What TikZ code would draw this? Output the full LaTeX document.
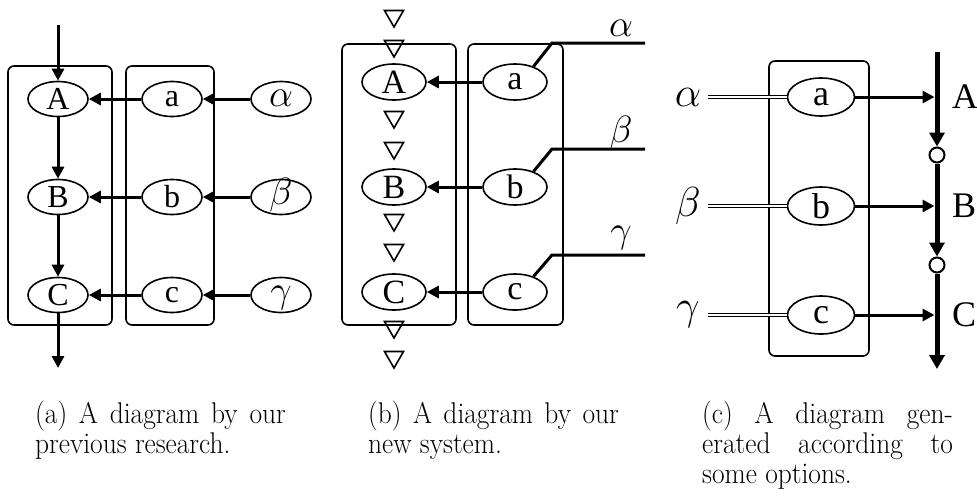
\RequirePackage{fix-cm}
\documentclass[tikz,border=0pt]{standalone}
\usepackage{fontspec}
\newfontfamily\nodefont{Liberation Serif}
\usetikzlibrary{arrows.meta,shapes.geometric}
\begin{document}
\begin{tikzpicture}[x=1pt,y=-1pt,
  ell/.style={ellipse, draw, line width=1.6pt, minimum width=60pt, minimum height=35pt, inner sep=0pt, font=\nodefont\fontsize{32}{32}\selectfont},
  ellb/.style={ell, minimum width=64pt, minimum height=36pt, font=\nodefont\fontsize{34}{34}\selectfont},
  ellc/.style={ell, minimum width=67pt, minimum height=38pt, font=\nodefont\fontsize{36}{36}\selectfont},
  grp/.style={draw, rounded corners=6pt, line width=1.6pt, inner sep=0pt},
  arr/.style={-{Triangle[length=12pt,width=12pt]}, line width=3pt},
  tri/.style={regular polygon, regular polygon sides=3, shape border rotate=180, draw, line width=1.6pt, minimum size=22pt, inner sep=0pt},
  wire/.style={line width=3pt},
  dbl/.style={double, double distance=2.4pt, line width=1pt},
  gka/.style={ell, font=\fontsize{38}{38}\selectfont, text height=14pt, text depth=0pt},
  gk/.style={font=\fontsize{38}{38}\selectfont, inner sep=0pt},
  gkc/.style={font=\fontsize{42}{42}\selectfont, inner sep=0pt},
  lab/.style={font=\nodefont\fontsize{36}{36}\selectfont, inner sep=0pt},
  bus/.style={line width=5pt, -{Triangle[length=14pt,width=15pt]}},
  ring/.style={circle, draw, fill=white, line width=2pt, minimum size=15pt, inner sep=0pt},
  captxt/.style={anchor=north west, inner sep=0pt, text width=274pt, align=justify, font=\fontsize{30}{30}\selectfont, xscale=0.915, transform shape}
]
\useasboundingbox (0,0) rectangle (977,496);

% ---------- panel (a) ----------
\node[grp, minimum width=104pt, minimum height=259pt] (La) at (60,195.5) {};
\node[grp, minimum width=88pt, minimum height=259pt] (Ra) at (170,195.5) {};
\node[ell] (A1) at (58,99) {A};
\node[ell] (B1) at (58,197) {B};
\node[ell] (C1) at (58,295) {C};
\node[ell] (a1) at (172,99) {a};
\node[ell] (b1) at (172,197) {b};
\node[ell] (c1) at (172,295) {c};
\node[gka] (g1a) at (281,99) {$\alpha$};
\node[gka] (g1b) at (281,197) {$\beta$};
\node[gka] (g1c) at (281,295) {$\gamma$};
\coordinate (topa) at (58,25);
\coordinate (bota) at (58,368);
\draw[arr] (topa) -- (A1);
\draw[arr] (A1) -- (B1);
\draw[arr] (B1) -- (C1);
\draw[arr] (C1) -- (bota);
\draw[arr] (a1) -- (A1);
\draw[arr] (b1) -- (B1);
\draw[arr] (c1) -- (C1);
\draw[arr] (g1a) -- (a1);
\draw[arr] (g1b) -- (b1);
\draw[arr] (g1c) -- (c1);

% ---------- panel (b) ----------
\node[grp, minimum width=114pt, minimum height=281pt] (Lb) at (399,184.5) {};
\node[grp, minimum width=95pt, minimum height=281pt] (Rb) at (515.5,184.5) {};
\node[ellb] (A2) at (394,82) {A};
\node[ellb] (B2) at (394,187) {B};
\node[ellb] (C2) at (394,292) {C};
\node[ellb] (a2) at (515,82) {a};
\node[ellb] (b2) at (515,187) {b};
\node[ellb] (c2) at (515,292) {c};
\node[tri] (t1) at (394,16) {};
\node[tri] (t2) at (394,46) {};
\node[tri] (t3) at (394,117) {};
\node[tri] (t4) at (394,148) {};
\node[tri] (t5) at (394,220) {};
\node[tri] (t6) at (394,250) {};
\node[tri] (t7) at (394,327) {};
\node[tri] (t8) at (394,357) {};
\draw[arr] (a2) -- (A2);
\draw[arr] (b2) -- (B2);
\draw[arr] (c2) -- (C2);
\coordinate (ka) at (552,43);  \coordinate (ea) at (645,43);
\coordinate (kb) at (552,149); \coordinate (eb) at (645,149);
\coordinate (kc) at (552,255); \coordinate (ec) at (645,255);
\draw[wire] (a2.40) -- (ka) -- (ea);
\draw[wire] (b2.40) -- (kb) -- (eb);
\draw[wire] (c2.40) -- (kc) -- (ec);
\node[gk] (g2a) at (621,28) {$\alpha$};
\node[gk] (g2b) at (621,133) {$\beta$};
\node[gk] (g2c) at (621,238) {$\gamma$};

% ---------- panel (c) ----------
\node[grp, minimum width=100pt, minimum height=295pt] (Bc) at (819,208.5) {};
\node[ellc] (a3) at (821,97) {a};
\node[ellc] (b3) at (821,206) {b};
\node[ellc] (c3) at (821,315) {c};
\node[gkc] (g3a) at (688,97) {$\alpha$};
\node[gkc] (g3b) at (688,206) {$\beta$};
\node[gkc] (g3c) at (688,315) {$\gamma$};
\coordinate (sa) at (708,97);
\coordinate (sb) at (708,206);
\coordinate (sc) at (708,315);
\draw[dbl] (sa) -- (a3);
\draw[dbl] (sb) -- (b3);
\draw[dbl] (sc) -- (c3);
\coordinate (busTop) at (937,52);
\coordinate (busBot) at (937,369);
\node[ring] (r1) at (937,155) {};
\node[ring] (r2) at (937,265) {};
\draw[bus] (busTop) -- (r1);
\draw[bus] (r1) -- (r2);
\draw[bus] (r2) -- (busBot);
\coordinate (pA) at (934.5,97);
\coordinate (pB) at (934.5,206);
\coordinate (pC) at (934.5,315);
\draw[arr] (a3) -- (pA);
\draw[arr] (b3) -- (pB);
\draw[arr] (c3) -- (pC);
\node[lab, anchor=west] (lA) at (952,97) {A};
\node[lab, anchor=west] (lB) at (952,206) {B};
\node[lab, anchor=west] (lC) at (952,315) {C};

% ---------- captions ----------
\node[captxt] (capa) at (35,401) {(a) A diagram by our\linebreak previous research.};
\node[captxt] (capb) at (368,401) {(b) A diagram by our\linebreak new system.};
\node[captxt] (capc) at (702,401) {(c) A diagram gen-\linebreak erated according to\linebreak some options.};
\end{tikzpicture}
\end{document}
